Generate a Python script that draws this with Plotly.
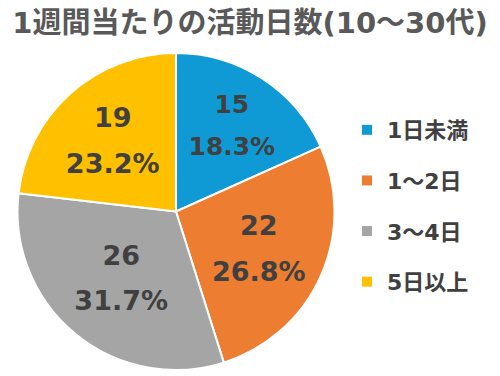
import plotly.graph_objects as go

title = "1週間当たりの活動日数(10～30代)"
categories = ["1日未満", "1～2日", "3～4日", "5日以上"]
values = [15, 22, 26, 19]
colors = ["#0F9AD6", "#ED7D31", "#A5A5A5", "#FFC000"]

fig = go.Figure()
fig.add_trace(go.Pie(
    labels=categories,
    values=values,
    sort=False,
    direction="clockwise",
    rotation=0,
    marker=dict(colors=colors, line=dict(color="white", width=2)),
    textposition="inside",
    insidetextorientation="horizontal",
    texttemplate="<span style='font-size:27px'>%{value}</span><br><span style='font-size:27px'>%{percent:.1%}</span>",
    textfont=dict(family="DejaVu Sans", size=35, color="#404040", weight="bold"),
    showlegend=False,
    domain=dict(x=[0.034, 0.67], y=[0.016, 0.859]),
    hoverinfo="label+value+percent",
))

for name, c in zip(categories, colors):
    fig.add_trace(go.Scatter(
        x=[None], y=[None], mode="markers", name=name, legendgroup=name,
        marker=dict(symbol="square", size=10, color=c),
        showlegend=True, hoverinfo="skip",
    ))

fig.update_layout(
    width=500, height=376,
    margin=dict(l=0, r=0, t=0, b=0),
    paper_bgcolor="white", plot_bgcolor="white",
    xaxis=dict(visible=False), yaxis=dict(visible=False),
    title=dict(
        text=title, x=0.5, xanchor="center", y=0.94, yanchor="middle",
        font=dict(family="DejaVu Sans, Noto Sans CJK JP", size=29, color="#595959", weight="bold"),
    ),
    legend=dict(
        x=0.694, xanchor="left", y=0.71, yanchor="top",
        font=dict(family="DejaVu Sans, Noto Sans CJK JP", size=22, color="#404040", weight="bold"),
        bgcolor="rgba(0,0,0,0)",
        traceorder="grouped", tracegroupgap=19,
        itemwidth=30,
    ),
)

fig.write_html("out.html", config={"displayModeBar": False},
               post_script="document.body.style.margin='0';")
